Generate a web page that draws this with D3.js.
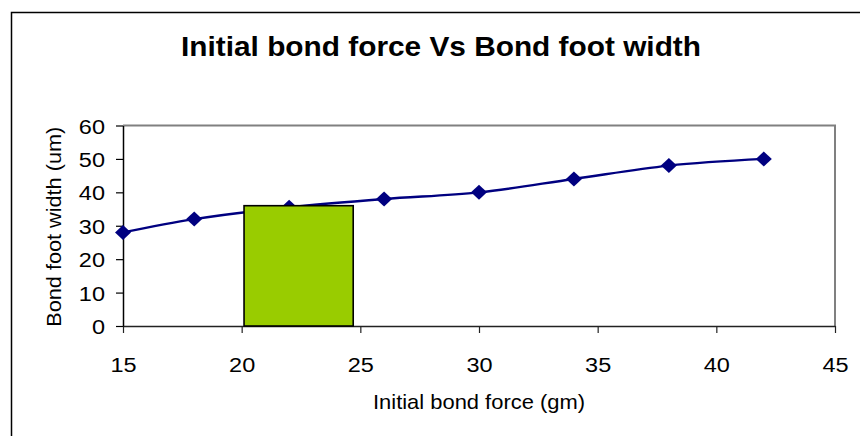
<!DOCTYPE html>
<html>
<head>
<meta charset="utf-8">
<script src="https://cdn.jsdelivr.net/npm/d3@7"></script>
<style>
  body { margin: 0; background: #fff; }
  svg { display: block; font-family: "Liberation Sans", Arial, sans-serif; }
</style>
</head>
<body>
<svg id="chart" width="860" height="436"></svg>
<script>
// Initial bond force (gm) vs bond foot width (um)
const force = [15, 18, 22, 26, 30, 34, 38, 42];
const footWidth = [28, 32, 35.5, 38, 40, 44, 48, 50];
const xTicks = [15, 20, 25, 30, 35, 40, 45];
const yTicks = [0, 10, 20, 30, 40, 50, 60];
// highlighted window drawn over the curve
const windowForce = [20.1, 24.7];
const windowTop = 36;

const svg = d3.select('#chart');
const plotL = 123, plotR = 835, plotT = 125.5, plotB = 326;
const font = '"Liberation Sans", Arial, sans-serif';
const stretch = 1.12; // reference text is a bit wider than it is tall

const x = d3.scaleLinear().domain([15, 45]).range([plotL, plotR]);
const y = d3.scaleLinear().domain([0, 60]).range([plotB, plotT]);

// outer chart frame (cropped on right / bottom)
svg.append('rect')
  .attr('x', 11.5).attr('y', 12.5).attr('width', 900).attr('height', 500)
  .attr('fill', 'none').attr('stroke', '#000').attr('stroke-width', 1.5);

svg.append('text')
  .attr('x', 441).attr('y', 55.7)
  .attr('text-anchor', 'middle')
  .attr('font-size', 27).attr('font-weight', 'bold')
  .attr('textLength', 520).attr('lengthAdjust', 'spacingAndGlyphs')
  .text('Initial bond force Vs Bond foot width');

// plot area border (top / right in grey)
svg.append('path')
  .attr('d', `M${plotL},${plotT}H${plotR}V${plotB}`)
  .attr('fill', 'none').attr('stroke', '#808080').attr('stroke-width', 2);

const xAxis = svg.append('g')
  .attr('transform', `translate(0,${plotB})`)
  .call(d3.axisBottom(x).tickValues(xTicks).tickSize(7).tickSizeOuter(0));
xAxis.select('.domain').attr('stroke', '#222').attr('stroke-width', 1.5);
xAxis.selectAll('.tick line').attr('stroke', '#222').attr('stroke-width', 1.2);
xAxis.selectAll('text')
  .attr('y', 46).attr('dy', null)
  .attr('font-size', 21).attr('fill', '#000').attr('font-family', font)
  .attr('transform', `scale(${stretch},1)`);

const yAxis = svg.append('g')
  .attr('transform', `translate(${plotL},0)`)
  .call(d3.axisLeft(y).tickValues(yTicks).tickSize(7).tickSizeOuter(0));
yAxis.select('.domain').attr('stroke', '#000').attr('stroke-width', 1.5);
yAxis.selectAll('.tick line').attr('stroke', '#000').attr('stroke-width', 1.2);
yAxis.selectAll('text')
  .attr('x', -18 / stretch).attr('dy', '0.36em')
  .attr('font-size', 21).attr('fill', '#000').attr('font-family', font)
  .attr('transform', `scale(${stretch},1)`);

svg.append('text')
  .attr('x', 479).attr('y', 409.3)
  .attr('text-anchor', 'middle').attr('font-size', 21)
  .attr('textLength', 212).attr('lengthAdjust', 'spacingAndGlyphs')
  .text('Initial bond force (gm)');

svg.append('text')
  .attr('transform', `translate(60.5,${(plotT + plotB) / 2 + 1}) rotate(-90)`)
  .attr('text-anchor', 'middle').attr('font-size', 21)
  .attr('textLength', 200).attr('lengthAdjust', 'spacingAndGlyphs')
  .text('Bond foot width (um)');

const pts = force.map((f, i) => [f, footWidth[i]]);

svg.append('path')
  .datum(pts)
  .attr('fill', 'none').attr('stroke', '#000080').attr('stroke-width', 2.4)
  .attr('d', d3.line().x(d => x(d[0])).y(d => y(d[1])).curve(d3.curveCatmullRom.alpha(0.5)));

svg.selectAll('.pt')
  .data(pts)
  .enter().append('path')
  .attr('class', 'pt')
  .attr('transform', d => `translate(${x(d[0])},${y(d[1])})`)
  .attr('d', 'M0,-7.5L8,0L0,7.5L-8,0Z')
  .attr('fill', '#000080');

svg.append('rect')
  .attr('x', x(windowForce[0])).attr('y', y(windowTop))
  .attr('width', x(windowForce[1]) - x(windowForce[0]))
  .attr('height', y(0) - y(windowTop))
  .attr('fill', '#99CC00').attr('stroke', '#000').attr('stroke-width', 1.6);
</script>
</body>
</html>
